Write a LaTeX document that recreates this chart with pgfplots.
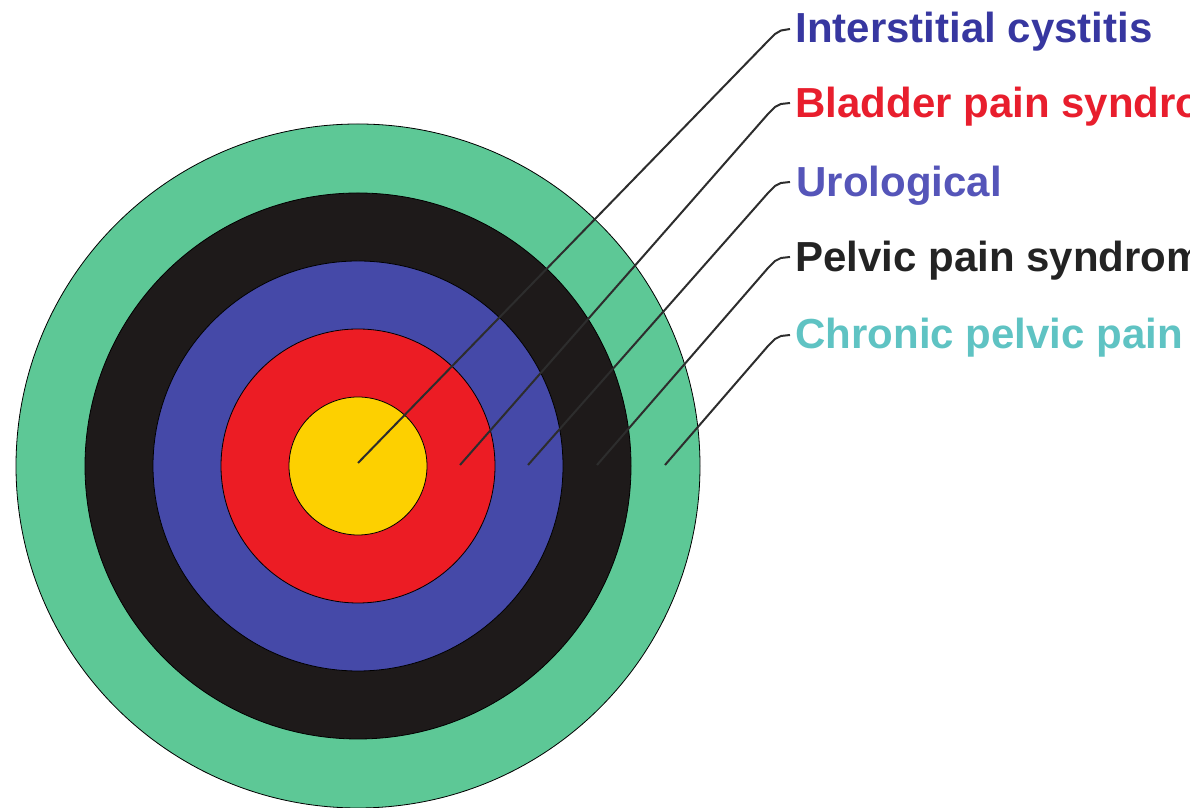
\documentclass[border=0pt]{standalone}
\usepackage{fontspec}
\setmainfont{Liberation Sans}
\usepackage{pgfplots}
\pgfplotsset{compat=1.18}

\definecolor{cgreen}{RGB}{93,200,150}
\definecolor{cblack}{RGB}{30,26,26}
\definecolor{cblue}{RGB}{69,73,168}
\definecolor{cred}{RGB}{236,28,36}
\definecolor{cyellow}{RGB}{253,208,0}
\definecolor{tdblue}{RGB}{55,55,160}
\definecolor{tred}{RGB}{232,30,45}
\definecolor{tblue}{RGB}{85,85,185}
\definecolor{tblack}{RGB}{35,35,35}
\definecolor{tteal}{RGB}{95,195,195}
\definecolor{lead}{RGB}{45,45,45}

\begin{document}
\begin{tikzpicture}
\begin{axis}[
	width=595pt, height=404pt, scale only axis,
	xmin=0, xmax=1190, ymin=0, ymax=808,
	y dir=reverse,
	hide axis, clip=false,
	set layers,
	ring/.style={only marks, mark=*, mark options={draw=black!75, line width=0.6pt}},
	leader/.style={lead, line width=1pt, sharp plot, mark=none, on layer=axis foreground},
	]

% rings, outermost first (radius in px, 1px = 0.5pt)
	\addplot[ring, mark size=171pt, mark options={fill=cgreen}] coordinates {(358,466)};
	\addplot[ring, mark size=136.5pt, mark options={fill=cblack}] coordinates {(358,466)};
	\addplot[ring, mark size=102.5pt, mark options={fill=cblue}] coordinates {(358,466)};
	\addplot[ring, mark size=68.5pt, mark options={fill=cred}] coordinates {(358,466)};
	\addplot[ring, mark size=34.5pt, mark options={fill=cyellow}] coordinates {(358,466)};

% leader lines
	\addplot[leader] coordinates {(358,463) (768,41) (775,34) (781,30.5) (790,29)};
	\addplot[leader] coordinates {(460,465) (768,114) (775,107) (781,104) (790,103)};
	\addplot[leader] coordinates {(528,465) (768,193) (775,186) (781,183) (790,182)};
	\addplot[leader] coordinates {(597,465) (768,268) (775,261) (781,258) (790,257)};
	\addplot[leader] coordinates {(665,465) (768,346) (775,339) (781,336) (790,335)};

% labels (cut at the right edge, as in the original)
	\node[anchor=base west, inner sep=0, font=\fontsize{21}{24}\selectfont\bfseries, text=tdblue] at (axis cs:795,43) {Interstitial cystitis};
	\node[anchor=base west, inner sep=0, font=\fontsize{21}{24}\selectfont\bfseries, text=tred] at (axis cs:795,118) {Bladder pain syndrome};
	\node[anchor=base west, inner sep=0, font=\fontsize{21}{24}\selectfont\bfseries, text=tblue] at (axis cs:796,197) {Urological};
	\node[anchor=base west, inner sep=0, font=\fontsize{21}{24}\selectfont\bfseries, text=tblack] at (axis cs:795,272) {Pelvic pain syndrome};
	\node[anchor=base west, inner sep=0, font=\fontsize{21}{24}\selectfont\bfseries, text=tteal] at (axis cs:795,349) {Chronic pelvic pain};

\end{axis}
\pgfresetboundingbox
\useasboundingbox (0,0) rectangle (595pt,404pt);
\end{tikzpicture}
\end{document}
